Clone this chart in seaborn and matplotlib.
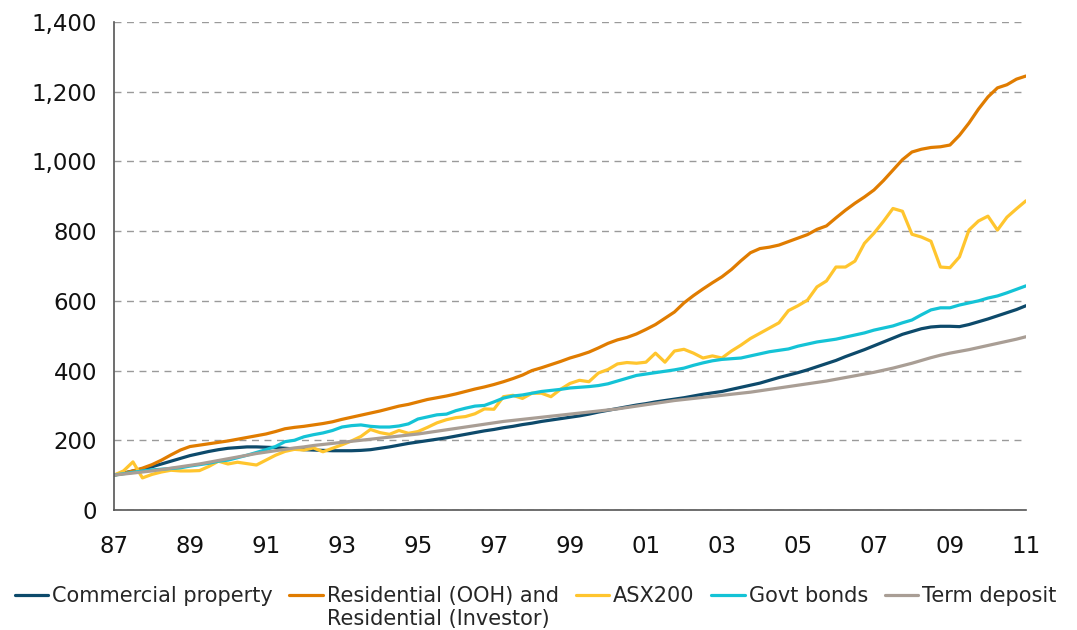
import numpy as np
import pandas as pd
import matplotlib.pyplot as plt
import matplotlib.ticker as mticker
import seaborn as sns

# quarterly index values, 1987 Q1 = 100, through 2011 Q1
quarters = np.arange(1987, 2011.01, 0.25)

commercial = [
    100, 106, 112, 118, 124, 132, 140, 148, 156, 162, 168, 173,
    177, 179, 181, 181, 180, 179, 177, 175, 173, 172, 171, 170,
    170, 170, 171, 173, 177, 181, 186, 191, 195, 199, 203, 207,
    212, 217, 222, 227, 231, 236, 240, 245, 249, 254, 258, 262,
    266, 270, 275, 281, 286, 291, 296, 301, 305, 310, 314, 318,
    322, 327, 332, 336, 340, 346, 352, 358, 364, 372, 380, 387,
    394, 402, 411, 420, 429, 440, 450, 460, 471, 482, 493, 504,
    512, 520, 525, 527, 527, 526, 532, 540, 548, 557, 566, 575,
    586,
]
residential = [
    100, 105, 112, 120, 130, 143, 158, 172, 182, 186, 190, 194,
    198, 203, 208, 213, 218, 225, 233, 237, 240, 244, 248, 253,
    260, 266, 272, 278, 284, 291, 298, 303, 310, 317, 322, 327,
    333, 340, 347, 353, 360, 368, 377, 387, 400, 408, 417, 426,
    436, 444, 453, 465, 478, 488, 495, 505, 518, 532, 550, 568,
    594, 615, 634, 652, 669, 690, 715, 738, 750, 754, 760, 770,
    780, 790, 805, 815, 838, 860, 880, 898, 918, 945, 975, 1005,
    1027, 1035, 1040, 1042, 1047, 1075, 1110, 1150, 1185, 1211, 1220, 1236,
    1245,
]
asx200 = [
    100, 112, 138, 92, 102, 109, 114, 112, 112, 113, 125, 140,
    132, 137, 133, 129, 143, 157, 168, 174, 172, 178, 167, 177,
    187, 198, 211, 231, 222, 217, 228, 220, 225, 237, 250, 259,
    265, 268, 276, 290, 289, 325, 329, 320, 335, 335, 325, 346,
    363, 372, 368, 393, 403, 419, 423, 421, 424, 450, 424, 456,
    461, 450, 436, 442, 436, 456, 473, 492, 507, 522, 537, 572,
    586, 602, 640, 657, 697, 697, 714, 765, 794, 828, 865, 857,
    791, 783, 771, 697, 695, 726, 803, 829, 843, 803, 840, 864,
    887,
]
govt_bonds = [
    100, 104, 108, 112, 115, 117, 119, 121, 126, 130, 134, 140,
    143, 150, 157, 165, 173, 182, 196, 200, 210, 216, 221, 228,
    238, 242, 244, 240, 238, 238, 241, 247, 261, 267, 273, 275,
    285, 292, 298, 300, 310, 321, 327, 330, 335, 340, 343, 346,
    350, 352, 354, 357, 362, 370, 378, 386, 390, 394, 398, 402,
    407, 415, 422, 428, 432, 434, 436, 442, 448, 454, 458, 462,
    470, 476, 482, 486, 490, 496, 502, 508, 516, 522, 528, 537,
    545, 560, 574, 580, 580, 588, 594, 600, 608, 614, 623, 633,
    643,
]
term_deposit = [
    100, 103, 106, 109, 112, 116, 120, 124, 128, 132, 137, 142,
    147, 152, 157, 162, 166, 170, 174, 178, 181, 185, 188, 191,
    194, 197, 200, 203, 206, 209, 212, 215, 218, 222, 226, 230,
    234, 238, 242, 246, 250, 254, 257, 260, 263, 266, 269, 272,
    275, 278, 281, 284, 287, 290, 294, 298, 302, 306, 310, 314,
    317, 320, 323, 326, 329, 332, 335, 338, 342, 346, 350, 354,
    358, 362, 366, 370, 375, 380, 385, 390, 395, 401, 407, 414,
    421, 429, 437, 444, 450, 455, 460, 466, 472, 478, 484, 490,
    497,
]

series_names = [
    "Commercial property",
    "Residential (OOH) and",
    "ASX200",
    "Govt bonds",
    "Term deposit",
]
residential_line2 = "Residential (Investor)"
series_values = [commercial, residential, asx200, govt_bonds, term_deposit]
colors = ["#0D4A6B", "#E07C00", "#FFC52E", "#14C3D6", "#A99E95"]

frames = [pd.DataFrame({"year": quarters, "value": v, "series": n})
          for n, v in zip(series_names, series_values)]
df = pd.concat(frames, ignore_index=True)

sns.set_theme(style="white")
plt.rcParams["font.family"] = ["DejaVu Sans"]

fig = plt.figure(figsize=(10.77, 6.3), dpi=100)
ax = fig.add_axes([0.1058, 0.1905, 0.8468, 0.7746])

sns.lineplot(data=df, x="year", y="value", hue="series", hue_order=series_names,
             palette=colors, linewidth=2.3, ax=ax)

ax.set_xlim(1987, 2011)
ax.set_ylim(0, 1400)
ax.set_xticks(np.arange(1987, 2012, 2))
ax.set_xticklabels([f"{int(y) % 100:02d}" for y in np.arange(1987, 2012, 2)])
ax.set_yticks(np.arange(0, 1401, 200))
ax.yaxis.set_major_formatter(mticker.FuncFormatter(lambda v, p: f"{int(v):,}"))
ax.set_xlabel("")
ax.set_ylabel("")

ax.yaxis.grid(True, linestyle=(0, (5, 4)), color="#9a9a9a", linewidth=1)
ax.set_axisbelow(True)
for side in ["top", "right"]:
    ax.spines[side].set_visible(False)
for side in ["left", "bottom"]:
    ax.spines[side].set_color("#555555")
    ax.spines[side].set_linewidth(1.2)
ax.tick_params(axis="both", direction="out", length=6, width=1.2,
               color="#555555", labelsize=16.5, labelcolor="#111111")
ax.tick_params(axis="x", pad=12)
ax.tick_params(axis="y", pad=6)

handles, labels = ax.get_legend_handles_labels()
ax.get_legend().remove()
leg = fig.legend(handles, labels, loc="upper left", bbox_to_anchor=(0.0, 0.093),
                 ncol=5, frameon=False, fontsize=15, handlelength=1.6,
                 handletextpad=0.2, columnspacing=0.8, borderaxespad=0.3)

# second line of the residential label, placed under the first line
fig.canvas.draw()
bb = leg.get_texts()[1].get_window_extent().transformed(fig.transFigure.inverted())
fig.text(bb.x0, bb.y0 - 0.005, residential_line2, fontsize=15, va="top", ha="left",
         color=leg.get_texts()[1].get_color())

fig.savefig("out.png", dpi=100)
